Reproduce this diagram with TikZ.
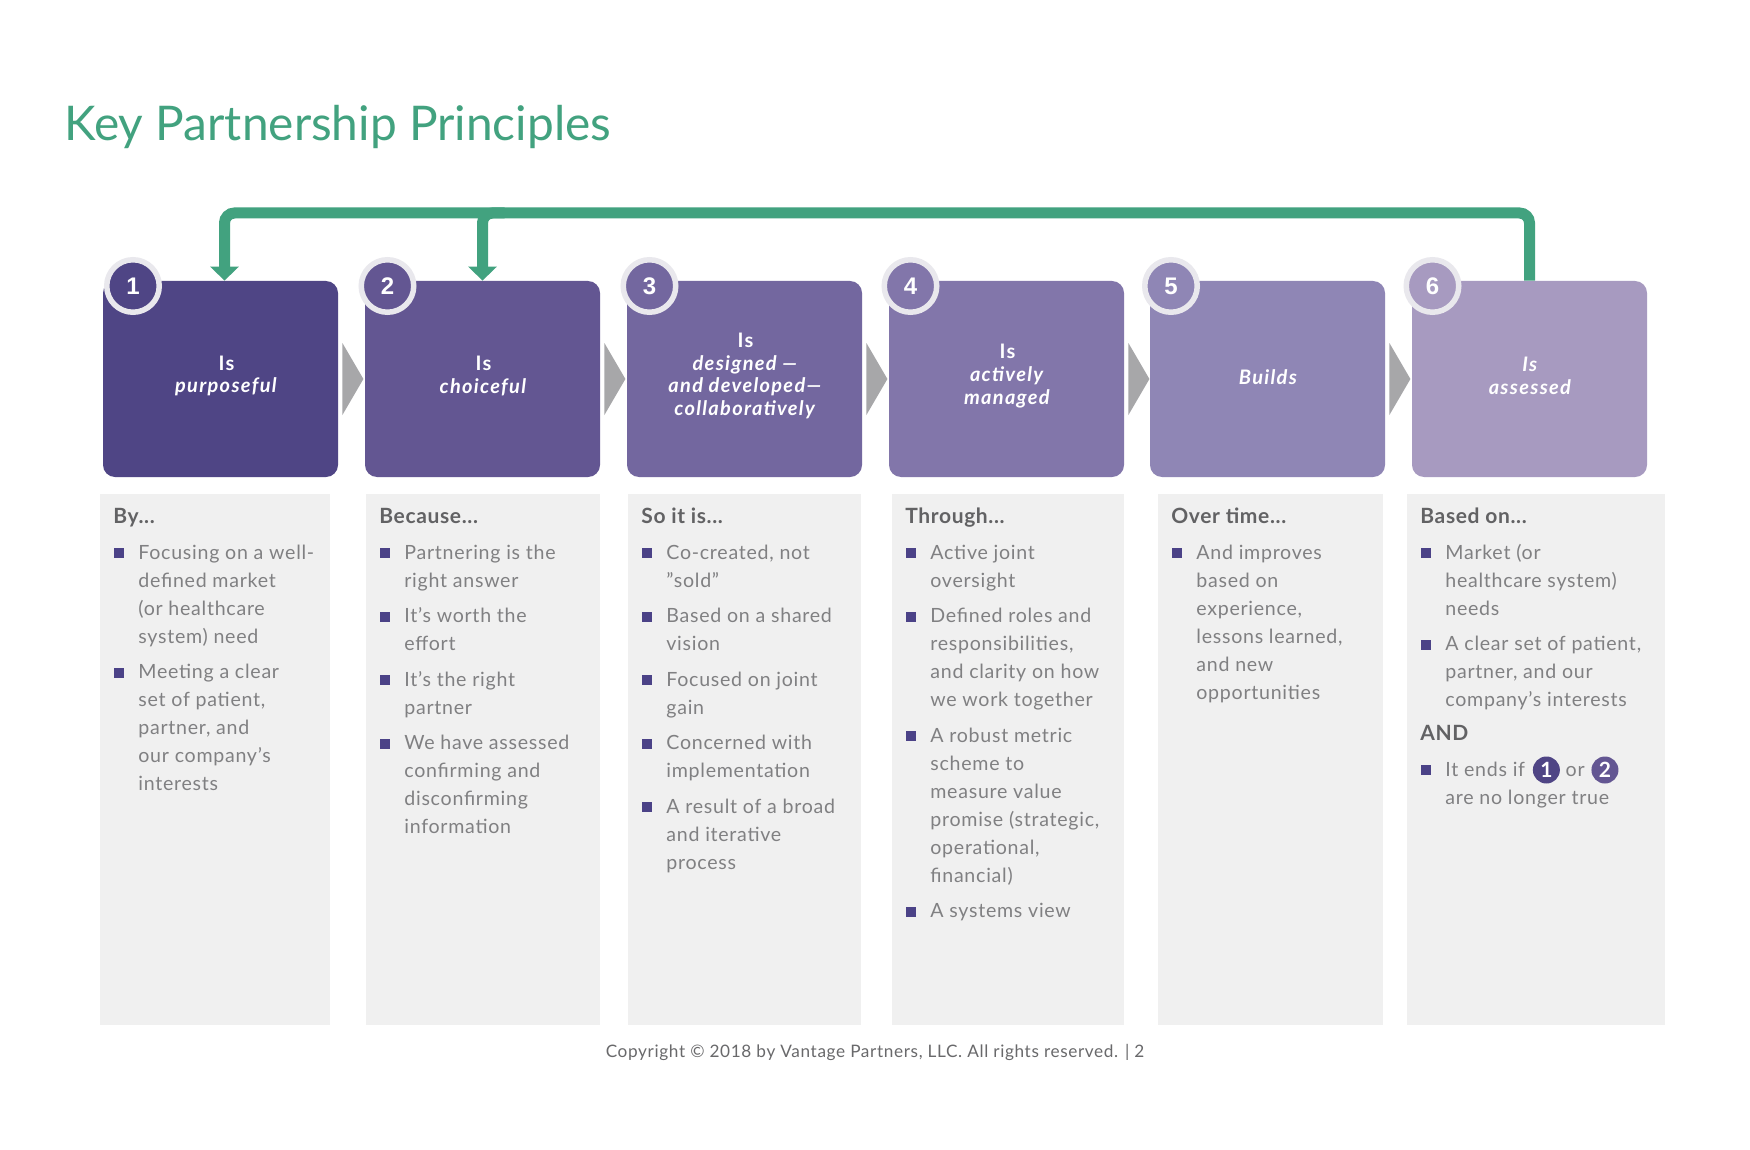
\documentclass[tikz,border=0pt]{standalone}
\usepackage{fontspec}
\setmainfont{Lato}
\newfontfamily\numfont{Liberation Sans}
\newfontfamily\bodyfont{Lato}[LetterSpace=3.7]
\newfontfamily\headfont{Lato}[LetterSpace=3]
\newfontfamily\boxfont{Lato}[LetterSpace=6.5]
\usetikzlibrary{arrows.meta,calc}
\definecolor{kgreen}{RGB}{66,162,127}
\definecolor{cA}{RGB}{79,69,133}
\definecolor{cB}{RGB}{99,86,146}
\definecolor{cC}{RGB}{115,103,159}
\definecolor{cD}{RGB}{130,118,170}
\definecolor{cE}{RGB}{143,134,181}
\definecolor{cF}{RGB}{167,154,192}
\definecolor{ringc}{RGB}{233,232,237}
\definecolor{chevc}{RGB}{167,167,169}
\definecolor{panelc}{RGB}{240,240,240}
\definecolor{headc}{RGB}{98,98,100}
\definecolor{bodyc}{RGB}{128,128,130}
\definecolor{footc}{RGB}{105,105,107}
\definecolor{bulc}{RGB}{75,66,135}
\newcommand\bitem[4]{%
  \fill[bulc] (#2+14,#3-11) rectangle (#2+24,#3-1);
  \node[bodytext] (#1) at (#2+38,#3) {\parbox[t]{150pt}{#4}};}
\newcommand\phead[3]{\node[headtext] (#1) at (#2+13,523) {#3};}
\newcommand\chev[1]{\fill[chevc] ($(#1.east)+(4,-36)$) -- ($(#1.east)+(25,0)$) -- ($(#1.east)+(4,36)$) -- cycle;}
\begin{document}
\begin{tikzpicture}[x=0.5pt,y=-0.5pt,
  box/.style={rounded corners=6pt, minimum width=117.5pt, minimum height=98pt, inner sep=0pt},
  boxtext/.style={inner sep=0pt, align=center, text=white, font=\boxfont\fontsize{10pt}{11.3pt}\selectfont\bfseries},
  numc/.style={circle, draw=ringc, line width=2.75pt, minimum size=26.25pt, inner sep=0pt,
    text=white, font={\numfont\fontsize{12pt}{14pt}\selectfont\bfseries}},
  panel/.style={fill=panelc, inner sep=0pt, minimum height=265.5pt},
  headtext/.style={anchor=base west, inner sep=0pt, text=headc, font=\headfont\fontsize{10.5pt}{12pt}\selectfont\bfseries},
  bodytext/.style={anchor=base west, inner sep=0pt, text=bodyc, font=\bodyfont\fontsize{9.8pt}{14pt}\selectfont},
  inlc/.style={circle, inner sep=0pt, minimum size=13.5pt, text=white, font=\fontsize{10.5pt}{12pt}\selectfont\bfseries},
  gline/.style={draw=kgreen, line width=5.5pt, rounded corners=5pt},
  gtip/.style={-{Triangle[width=14pt,length=7pt]}}
]
\fill[white] (0,0) rectangle (1750,1150);
\useasboundingbox (0,0) rectangle (1750,1150);

% title
\node[anchor=base west, inner sep=0pt, text=kgreen, font=\fontsize{23.9pt}{28pt}\selectfont] (title) at (64,141) {Key Partnership Principles};

% top boxes
\node[box, fill=cA] (box1) at (220.5,379) {};
\node[box, fill=cB] (box2) at (482.5,379) {};
\node[box, fill=cC] (box3) at (744.5,379) {};
\node[box, fill=cD] (box4) at (1006.5,379) {};
\node[box, fill=cE] (box5) at (1267.5,379) {};
\node[box, fill=cF] (box6) at (1529.5,379) {};
\node[boxtext] (box1t) at ($(box1)+(6,-3)$) {Is\\\textit{purposeful}};
\node[boxtext] (box2t) at ($(box2)+(1,-3)$) {Is\\\textit{choiceful}};
\node[boxtext] (box3t) at ($(box3)+(1,-3)$) {Is\\\textit{designed —}\\\textit{and developed—}\\\textit{collaboratively}};
\node[boxtext] (box4t) at ($(box4)+(1,-3)$) {Is\\\textit{actively}\\\textit{managed}};
\node[boxtext] (box5t) at ($(box5)+(1,-2)$) {\textit{Builds}};
\node[boxtext] (box6t) at ($(box6)+(1,-3)$) {\textit{Is}\\\textit{assessed}};

% chevrons
\chev{box1}\chev{box2}\chev{box3}\chev{box4}\chev{box5}

% number circles
\node[numc, fill=cA] (n1) at (133,286) {1};
\node[numc, fill=cB] (n2) at (387.5,286) {2};
\node[numc, fill=cC] (n3) at (649.5,286) {3};
\node[numc, fill=cD] (n4) at (910.5,286) {4};
\node[numc, fill=cE] (n5) at (1171,286) {5};
\node[numc, fill=cF] (n6) at (1432.5,286) {6};

% green feedback connector
\coordinate (gtop) at (0,213);
\coordinate (t1) at ($(box1.north)+(4,0)$);
\draw[gline, gtip] (box6.north) -- (box6.north |- gtop) -| (t1);
\draw[gline, gtip] ($(box2.north |- gtop)+(22,0)$) -| (box2.north);

% panels
\node[panel, minimum width=115pt] (p1) at (215,759.5) {};
\node[panel, minimum width=117pt] (p2) at (483,759.5) {};
\node[panel, minimum width=116.5pt] (p3) at (744.5,759.5) {};
\node[panel, minimum width=116pt] (p4) at (1008,759.5) {};
\node[panel, minimum width=112.5pt] (p5) at (1270.5,759.5) {};
\node[panel, minimum width=129pt] (p6) at (1536,759.5) {};

% column 1
\phead{h1}{100}{By...}
\bitem{a1}{100}{559}{Focusing on a well-\\defined market\\(or healthcare\\system) need}
\bitem{a2}{100}{678.5}{Meeting a clear\\set of patient,\\partner, and\\our company’s\\interests}

% column 2
\phead{h2}{366}{Because...}
\bitem{b1}{366}{559}{Partnering is the\\right answer}
\bitem{b2}{366}{622.5}{It’s worth the\\effort}
\bitem{b3}{366}{686}{It’s the right\\partner}
\bitem{b4}{366}{749.5}{We have assessed\\confirming and\\disconfirming\\information}

% column 3
\phead{h3}{628}{So it is...}
\bitem{c1}{628}{559}{Co-created, not\\”sold”}
\bitem{c2}{628}{622.5}{Based on a shared\\vision}
\bitem{c3}{628}{686}{Focused on joint\\gain}
\bitem{c4}{628}{749.5}{Concerned with\\implementation}
\bitem{c5}{628}{813}{A result of a broad\\and iterative\\process}

% column 4
\phead{h4}{892}{Through...}
\bitem{d1}{892}{559}{Active joint\\oversight}
\bitem{d2}{892}{622.5}{Defined roles and\\responsibilities,\\and clarity on how\\we work together}
\bitem{d3}{892}{742}{A robust metric\\scheme to\\measure value\\promise (strategic,\\operational,\\financial)}
\bitem{d4}{892}{917.5}{A systems view}

% column 5
\phead{h5}{1158}{Over time...}
\bitem{e1}{1158}{559}{And improves\\based on\\experience,\\lessons learned,\\and new\\opportunities}

% column 6
\phead{h6}{1407}{Based on...}
\bitem{f1}{1407}{559}{Market (or\\healthcare system)\\needs}
\bitem{f2}{1407}{650.5}{A clear set of patient,\\partner, and our\\company’s interests}
\node[headtext] (fand) at (1420,740) {AND};
\fill[bulc] (1407+14,776-11) rectangle (1407+24,776-1);
\node[bodytext] (f3a) at (1445,776) {It ends if};
\node[inlc, fill=cA, anchor=west] (ic1) at ($(f3a.base east)+(7,-6)$) {1};
\node[bodytext] (f3or) at ($(ic1.east |- f3a.base)+(5,0)$) {or};
\node[inlc, fill=cB, anchor=west] (ic2) at ($(f3or.base east)+(6,-6)$) {2};
\node[bodytext] (f3b) at (1445,804) {are no longer true};

% footer
\node[anchor=base, inner sep=0pt, text=footc, font=\bodyfont\fontsize{8.6pt}{10pt}\selectfont] (copy) at (875,1057) {Copyright © 2018 by Vantage Partners, LLC. All rights reserved. | 2};
\end{tikzpicture}
\end{document}
